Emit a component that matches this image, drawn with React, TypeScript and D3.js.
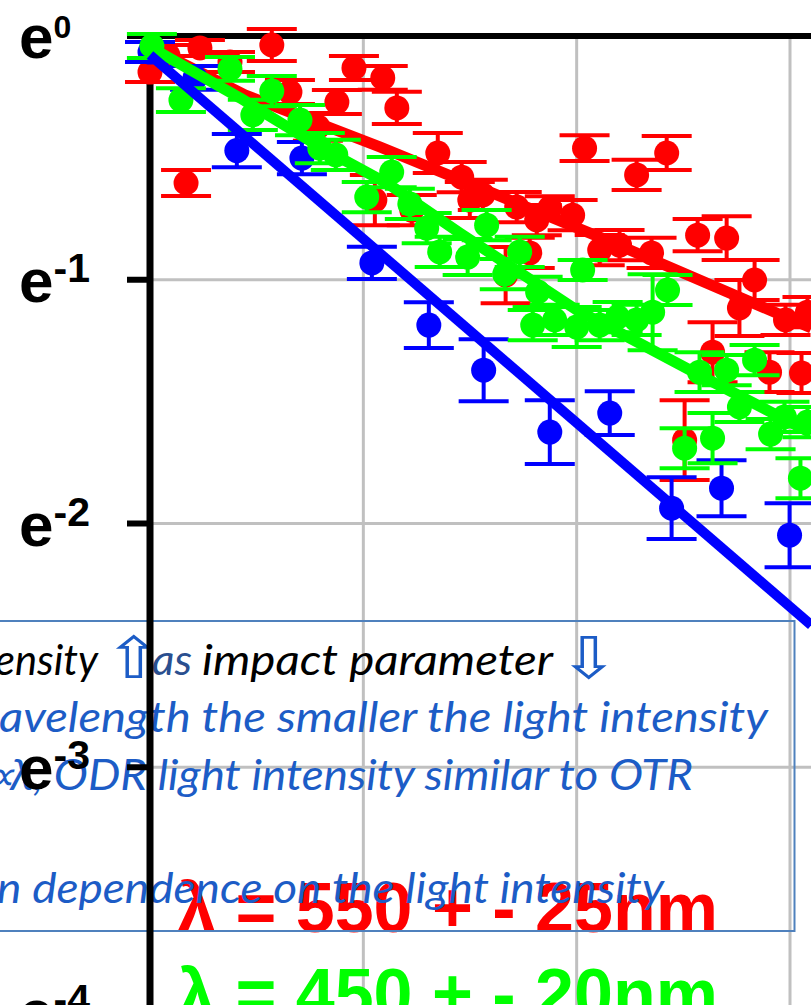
import React from 'react';
import * as d3 from 'd3';

const W = 811;
const H = 1005;

// x: impact parameter (grid units), y: ln(I / I0), err: half error bar (ln units)
const redX = [0, 0.084, 0.234, 0.375, 0.571, 0.656, 0.787, 0.876, 0.956, 1.091, 1.157, 0.169, 1.054, 1.227, 1.349, 1.461, 1.499, 1.56, 1.719, 1.813, 1.874, 1.981, 1.78, 1.667, 2.037, 2.281, 2.422, 2.108, 2.201, 2.351, 2.567, 2.703, 2.834, 2.763, 2.979, 3.082, 2.637, 2.904, 3.054, 2.506];
const redY = [-0.148, -0.078, -0.049, -0.107, -0.037, -0.23, -0.373, -0.271, -0.131, -0.172, -0.295, -0.603, -0.673, -0.714, -0.48, -0.579, -0.673, -0.652, -0.702, -0.755, -0.706, -0.735, -0.89, -0.981, -0.46, -0.57, -0.48, -0.878, -0.858, -0.89, -0.817, -0.829, -1.001, -1.116, -1.165, -1.133, -1.297, -1.379, -1.383, -1.658];
const redErr = [0.041, 0.041, 0.033, 0.041, 0.066, 0.049, 0.057, 0.049, 0.049, 0.049, 0.066, 0.053, 0.103, 0.062, 0.082, 0.062, 0.074, 0.062, 0.062, 0.062, 0.049, 0.062, 0.062, 0.115, 0.053, 0.062, 0.07, 0.062, 0.062, 0.062, 0.066, 0.09, 0.082, 0.115, 0.062, 0.062, 0.123, 0.082, 0.082, 0.164];

const greenX = [0.009, 0.145, 0.375, 0.482, 0.571, 0.703, 0.796, 0.871, 1.016, 1.133, 1.218, 1.297, 1.358, 1.489, 1.578, 1.663, 1.733, 1.817, 1.794, 1.897, 2.0, 2.028, 2.108, 2.192, 2.281, 2.356, 2.426, 2.576, 2.703, 2.834, 2.763, 2.974, 3.082, 2.506, 2.637, 2.909, 3.049];
const greenY = [-0.041, -0.263, -0.135, -0.324, -0.226, -0.345, -0.46, -0.488, -0.661, -0.558, -0.689, -0.788, -0.886, -0.907, -0.776, -0.977, -0.886, -1.05, -1.186, -1.165, -1.194, -0.96, -1.186, -1.153, -1.165, -1.133, -1.042, -1.379, -1.371, -1.33, -1.522, -1.563, -1.584, -1.691, -1.65, -1.633, -1.814];
const greenErr = [0.049, 0.049, 0.049, 0.062, 0.062, 0.062, 0.062, 0.062, 0.062, 0.062, 0.062, 0.062, 0.062, 0.074, 0.062, 0.062, 0.062, 0.062, 0.062, 0.062, 0.082, 0.041, 0.062, 0.062, 0.062, 0.156, 0.062, 0.082, 0.062, 0.062, 0.062, 0.062, 0.062, 0.082, 0.103, 0.062, 0.082];

const blueX = [0, 0.211, 0.407, 0.712, 1.04, 1.307, 1.564, 1.874, 2.155, 2.445, 2.679, 2.998];
const blueY = [-0.066, -0.172, -0.47, -0.501, -0.931, -1.186, -1.371, -1.625, -1.547, -1.937, -1.855, -2.048];
const blueErr = [0.041, 0.049, 0.068, 0.066, 0.066, 0.094, 0.127, 0.131, 0.09, 0.127, 0.115, 0.131];

// fitted curves
const redFitX = [0, 0.445, 1.077, 2.108, 3.1];
const redFitY = [-0.045, -0.242, -0.455, -0.825, -1.198];
const greenFitX = [0, 0.422, 0.796, 1.124, 1.452, 2.0, 2.576, 3.1];
const greenFitY = [-0.045, -0.254, -0.455, -0.611, -0.808, -1.124, -1.391, -1.629];
const blueFitX = [0, 3.1];
const blueFitY = [-0.078, -2.417];

const yTicks = [0, -1, -2, -3, -4];
const yGrid = [-1, -2, -3];
const xGrid = [1, 2, 3];

const legendRed = 'λ = 550 + - 25nm';
const legendGreen = 'λ = 450 + - 20nm';

const BLUE_TEXT = '#1c5cc6';

export default function App() {
  const x = d3.scaleLinear().domain([0, 3]).range([150, 790]);
  const y = d3.scaleLinear().domain([0, -4]).range([36, 1011]);
  const line = d3
    .line<[number, number]>()
    .x((d) => x(d[0]))
    .y((d) => y(d[1]));

  const series = (xs: number[], ys: number[], es: number[], color: string) => (
    <g>
      {xs.map((xv, i) => {
        const cx = x(xv);
        const t = y(ys[i] + es[i]);
        const b = y(ys[i] - es[i]);
        return (
          <g key={i}>
            <line x1={cx} x2={cx} y1={t} y2={b} stroke={color} strokeWidth={4} />
            <line x1={cx - 25} x2={cx + 25} y1={t} y2={t} stroke={color} strokeWidth={4} />
            <line x1={cx - 25} x2={cx + 25} y1={b} y2={b} stroke={color} strokeWidth={4} />
          </g>
        );
      })}
      {xs.map((xv, i) => (
        <circle key={'c' + i} cx={x(xv)} cy={y(ys[i])} r={12.5} fill={color} />
      ))}
    </g>
  );

  const fit = (xs: number[], ys: number[], color: string, w: number) => (
    <path
      d={line(xs.map((v, i) => [v, ys[i]] as [number, number])) || ''}
      fill="none"
      stroke={color}
      strokeWidth={w}
      strokeLinejoin="round"
    />
  );

  const boxFont = 'Lato, Carlito, Calibri, "Open Sans", sans-serif';

  return (
    <svg
      width={W}
      height={H}
      viewBox={`0 0 ${W} ${H}`}
      style={{ position: 'absolute', left: 0, top: 0, background: '#fff' }}
    >
      <rect x={0} y={0} width={W} height={H} fill="#fff" />
      {/* gridlines */}
      {xGrid.map((g) => (
        <line key={'gx' + g} x1={x(g)} x2={x(g)} y1={y(0)} y2={H} stroke="#c0c0c0" strokeWidth={3} />
      ))}
      {yGrid.map((g) => (
        <line key={'gy' + g} x1={x(0)} x2={W} y1={y(g)} y2={y(g)} stroke="#c0c0c0" strokeWidth={3} />
      ))}

      {/* wavelength legend */}
      <g fontFamily='"Liberation Sans", Arial, sans-serif' fontWeight="bold" fontSize={70}>
        <text x={177} y={932} fill="#ff0000">{legendRed}</text>
        <text x={177} y={1018} fill="#00ff00">{legendGreen}</text>
      </g>

      {/* text box */}
      <g>
        <rect x={-5} y={621} width={799.5} height={310} fill="none" stroke="#4f81bd" strokeWidth={2} />
        <g fontFamily={boxFont} fontStyle="italic" fontSize={42}>
          <text x={-5} y={675} fill="#000" textLength={103} lengthAdjust="spacingAndGlyphs">ensity</text>
          <text x={0} y={0} fill={BLUE_TEXT} fontStyle="normal"
            fontFamily='"DejaVu Sans", sans-serif' fontSize={55}
            transform="translate(104,678) scale(1.3,1.05)">⇧</text>
          <text x={152} y={675} fill="#2a4f8f" textLength={40} lengthAdjust="spacingAndGlyphs">as</text>
          <text x={202} y={675} fill="#000" textLength={351} lengthAdjust="spacingAndGlyphs">impact parameter</text>
          <text x={0} y={0} fill={BLUE_TEXT} fontStyle="normal"
            fontFamily='"DejaVu Sans", sans-serif' fontSize={55}
            transform="translate(559,678) scale(1.3,1.05)">⇩</text>
          <text x={-1} y={732} fill={BLUE_TEXT} textLength={769} lengthAdjust="spacingAndGlyphs">avelength the smaller the light intensity</text>
          <text x={-16} y={790} fill={BLUE_TEXT}>∝</text>
          <text x={10} y={790} fill={BLUE_TEXT} textLength={683} lengthAdjust="spacingAndGlyphs">λ, ODR light intensity similar to OTR</text>
          <text x={-3} y={903} fill={BLUE_TEXT} textLength={667} lengthAdjust="spacingAndGlyphs">n dependence on the light intensity</text>
        </g>
      </g>

      {/* axes */}
      <line x1={127} x2={W} y1={y(0)} y2={y(0)} stroke="#000" strokeWidth={6} />
      <line x1={x(0)} x2={x(0)} y1={y(0) - 3} y2={H} stroke="#000" strokeWidth={7} />
      {yTicks.map((t) => (
        <line key={'t' + t} x1={127} x2={x(0)} y1={y(t)} y2={y(t)} stroke="#000" strokeWidth={6} />
      ))}
      <g fontFamily='"Liberation Sans", Arial, sans-serif' fontWeight="bold" fill="#000">
        {yTicks.map((t) => (
          <text key={'l' + t} x={19} y={y(t) + 22} fontSize={62}>
            e
            <tspan fontSize={t === 0 ? 32 : 41} dy={-20}>
              {t === 0 ? '0' : `-${-t}`}
            </tspan>
          </text>
        ))}
      </g>

      {/* data */}
      {series(redX, redY, redErr, '#ff0000')}
      {fit(redFitX, redFitY, '#ff0000', 11)}
      {series(blueX, blueY, blueErr, '#0000ff')}
      {series(greenX, greenY, greenErr, '#00ff00')}
      {fit(greenFitX, greenFitY, '#00ff00', 11)}
      {fit(blueFitX, blueFitY, '#0000ff', 10)}
    </svg>
  );
}
